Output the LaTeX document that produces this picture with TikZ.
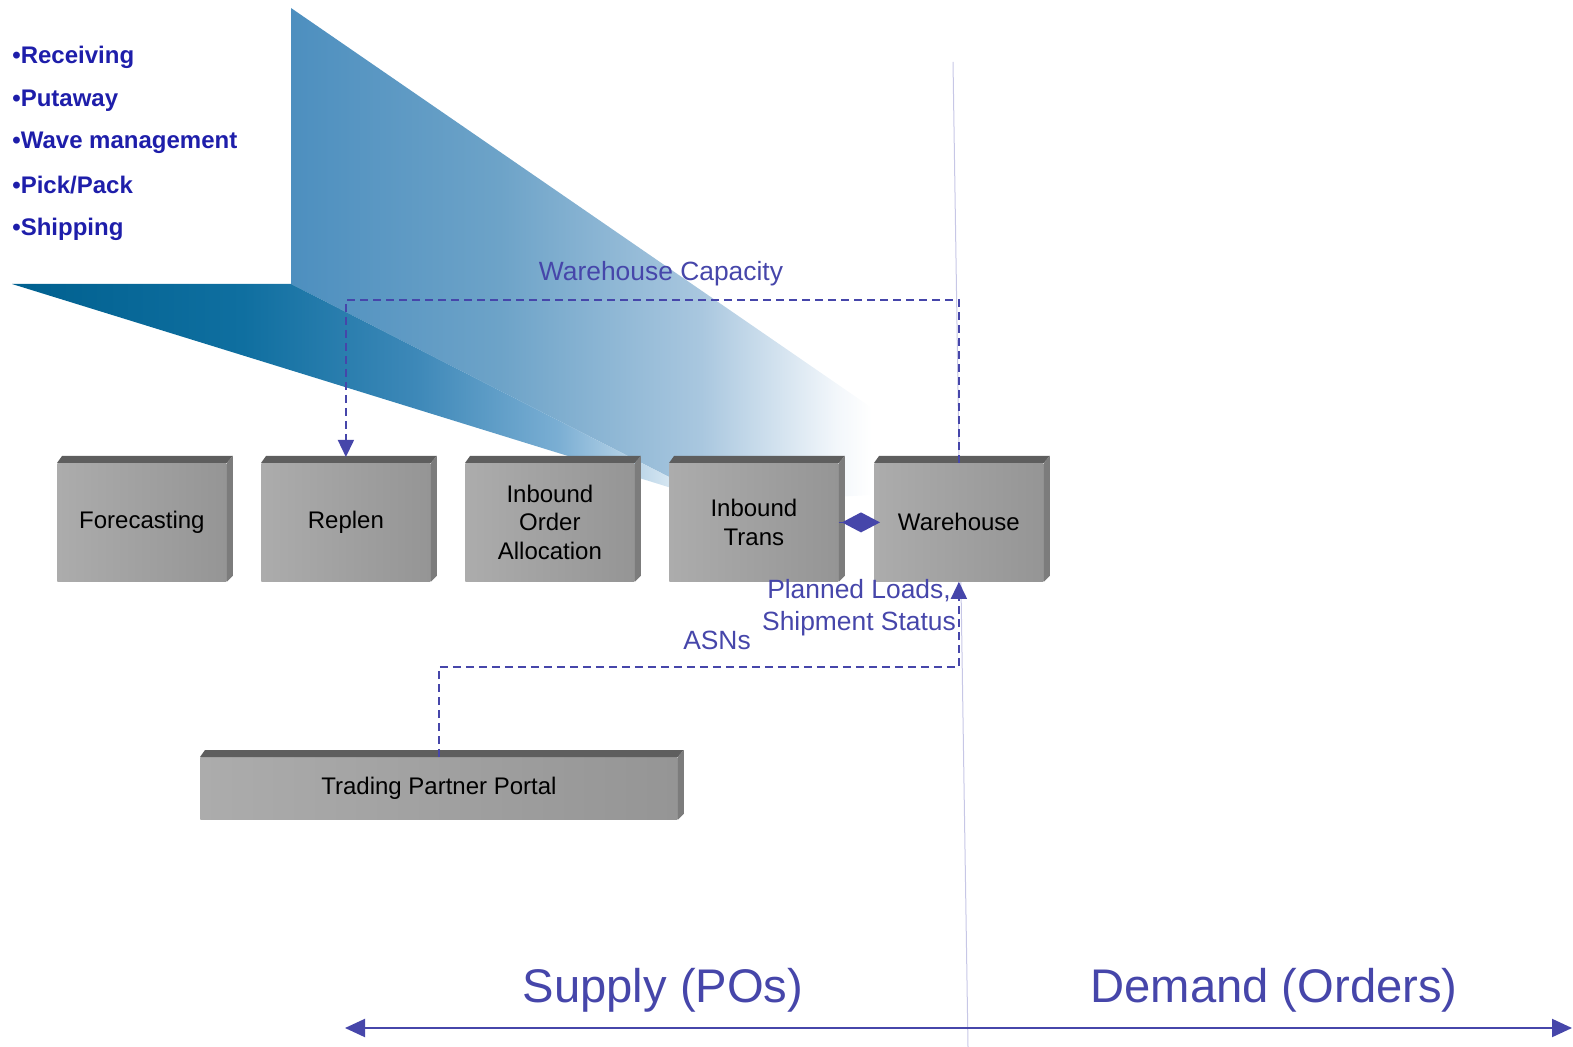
\documentclass[tikz,border=0pt]{standalone}
\usepackage{fontspec}
\setmainfont{Liberation Sans}
\usetikzlibrary{arrows.meta}
\definecolor{bullblue}{HTML}{1E1EAA}
\definecolor{lblue}{HTML}{4646AA}
\definecolor{bevtopc}{HTML}{5E5E5E}
\definecolor{bevsidec}{HTML}{7C7C7C}
\definecolor{facel}{HTML}{ACACAC}
\definecolor{facer}{HTML}{959595}
\definecolor{fl1}{HTML}{00608F}
\definecolor{fl2}{HTML}{0F6FA0}
\definecolor{fl3}{HTML}{3D88B8}
\definecolor{fl4}{HTML}{7AAED3}
\definecolor{wa1}{HTML}{4D8FBF}
\definecolor{wa2}{HTML}{6DA3C8}
\definecolor{wa3}{HTML}{A9C7DF}
\definecolor{wa4}{HTML}{F3F7FB}
\pgfdeclarehorizontalshading{floorshade}{100bp}{color(0bp)=(fl1); color(25bp)=(fl1); color(41.3bp)=(fl2); color(53.5bp)=(fl3); color(63.5bp)=(fl4); color(75bp)=(white); color(100bp)=(white)}
\pgfdeclarehorizontalshading{wallshade}{100bp}{color(0bp)=(wa1); color(25bp)=(wa1); color(43bp)=(wa2); color(60.3bp)=(wa3); color(72bp)=(wa4); color(75bp)=(white); color(100bp)=(white)}
\tikzset{
  facebox/.style={draw=none, left color=facel, right color=facer, minimum width=84.5pt, minimum height=59pt, inner sep=0pt, anchor=north west, align=center, text=black, font=\fontsize{12}{14.4}\selectfont},
  bevtop/.style={fill=bevtopc},
  bevside/.style={fill=bevsidec},
  bulletitem/.style={anchor=base west, inner sep=0pt, text=bullblue, font=\fontsize{12}{14}\selectfont\bfseries},
  lbl/.style={text=lblue, inner sep=0pt, font=\fontsize{13.2}{16}\selectfont, align=center},
  biglbl/.style={text=lblue, inner sep=0pt, font=\fontsize{23.6}{28}\selectfont},
  dashconn/.style={draw=lblue, line width=0.75pt, dash pattern=on 4pt off 2.5pt, -{Triangle[length=8.5pt,width=8pt]}},
  diamondconn/.style={draw=lblue, line width=0.75pt, -{Diamond[length=19pt,width=10pt]}},
  bigarrow/.style={draw=lblue, line width=1pt, {Triangle[length=10pt,width=9pt]}-{Triangle[length=10pt,width=9pt]}}
}
\newcommand\boxbevels[1]{%
  \fill[bevtop] (#1.north west) -- ++(5,-7) -- ([shift={(6,-7)}]#1.north east) -- (#1.north east) -- cycle;
  \fill[bevside] (#1.north east) -- ++(6,-7) -- ([shift={(6,-6)}]#1.south east) -- (#1.south east) -- cycle;}
\begin{document}
\begin{tikzpicture}[x=0.5pt,y=-0.5pt]
\useasboundingbox (0,0) rectangle (1573,1047);
% perspective wedge
\shade[shading=wallshade] (291,8) -- (872,408) -- (872,495) -- (720,503) -- (291,284) -- cycle;
\shade[shading=floorshade] (12,284) -- (291,284) -- (720,503) -- cycle;
% faint divider
\draw[color=lblue!30, line width=0.5pt] (953,62) -- (968,1047);
% bullet list
\node[bulletitem] (b1) at (12,64) {•Receiving};
\node[bulletitem] (b2) at (12,107) {•Putaway};
\node[bulletitem] (b3) at (12,149) {•Wave management};
\node[bulletitem] (b4) at (12,194) {•Pick/Pack};
\node[bulletitem] (b5) at (12,236) {•Shipping};
% boxes
\node[facebox] (fc) at (57,463) {Forecasting};
\node[facebox] (rep) at (261,463) {Replen};
\node[facebox] (ioa) at (465,463) {Inbound\\Order\\Allocation};
\node[facebox] (trans) at (669,463) {Inbound\\Trans};
\node[facebox] (wh) at (874,463) {Warehouse};
\node[facebox, minimum width=238.5pt, minimum height=31pt] (tpp) at (200,757) {Trading Partner Portal};
\boxbevels{fc}
\boxbevels{rep}
\boxbevels{ioa}
\boxbevels{trans}
\boxbevels{wh}
\boxbevels{tpp}
% connectors
\draw[dashconn, shorten >=3pt] (wh.north) -- (wh.north |- 0,300) -| (rep.north);
\draw[dashconn] (tpp.north) -- (tpp.north |- 0,667) -| (wh.south);
\draw[diamondconn] (trans.east) -- ([xshift=3pt]wh.west);
% labels
\node[lbl] (capl) at (661,274) {Warehouse Capacity};
\node[lbl] (plan) at (859,608) {Planned Loads,\\Shipment Status};
\node[lbl] (asn) at (717,640) {ASNs};
% bottom axis
\coordinate (axl) at (345,1028);
\coordinate (axr) at (1572,1028);
\draw[bigarrow] (axl) -- (axr);
\node[biglbl] (sup) at (663,990) {Supply (POs)};
\node[biglbl] (dem) at (1274,990) {Demand (Orders)};
\end{tikzpicture}
\end{document}
